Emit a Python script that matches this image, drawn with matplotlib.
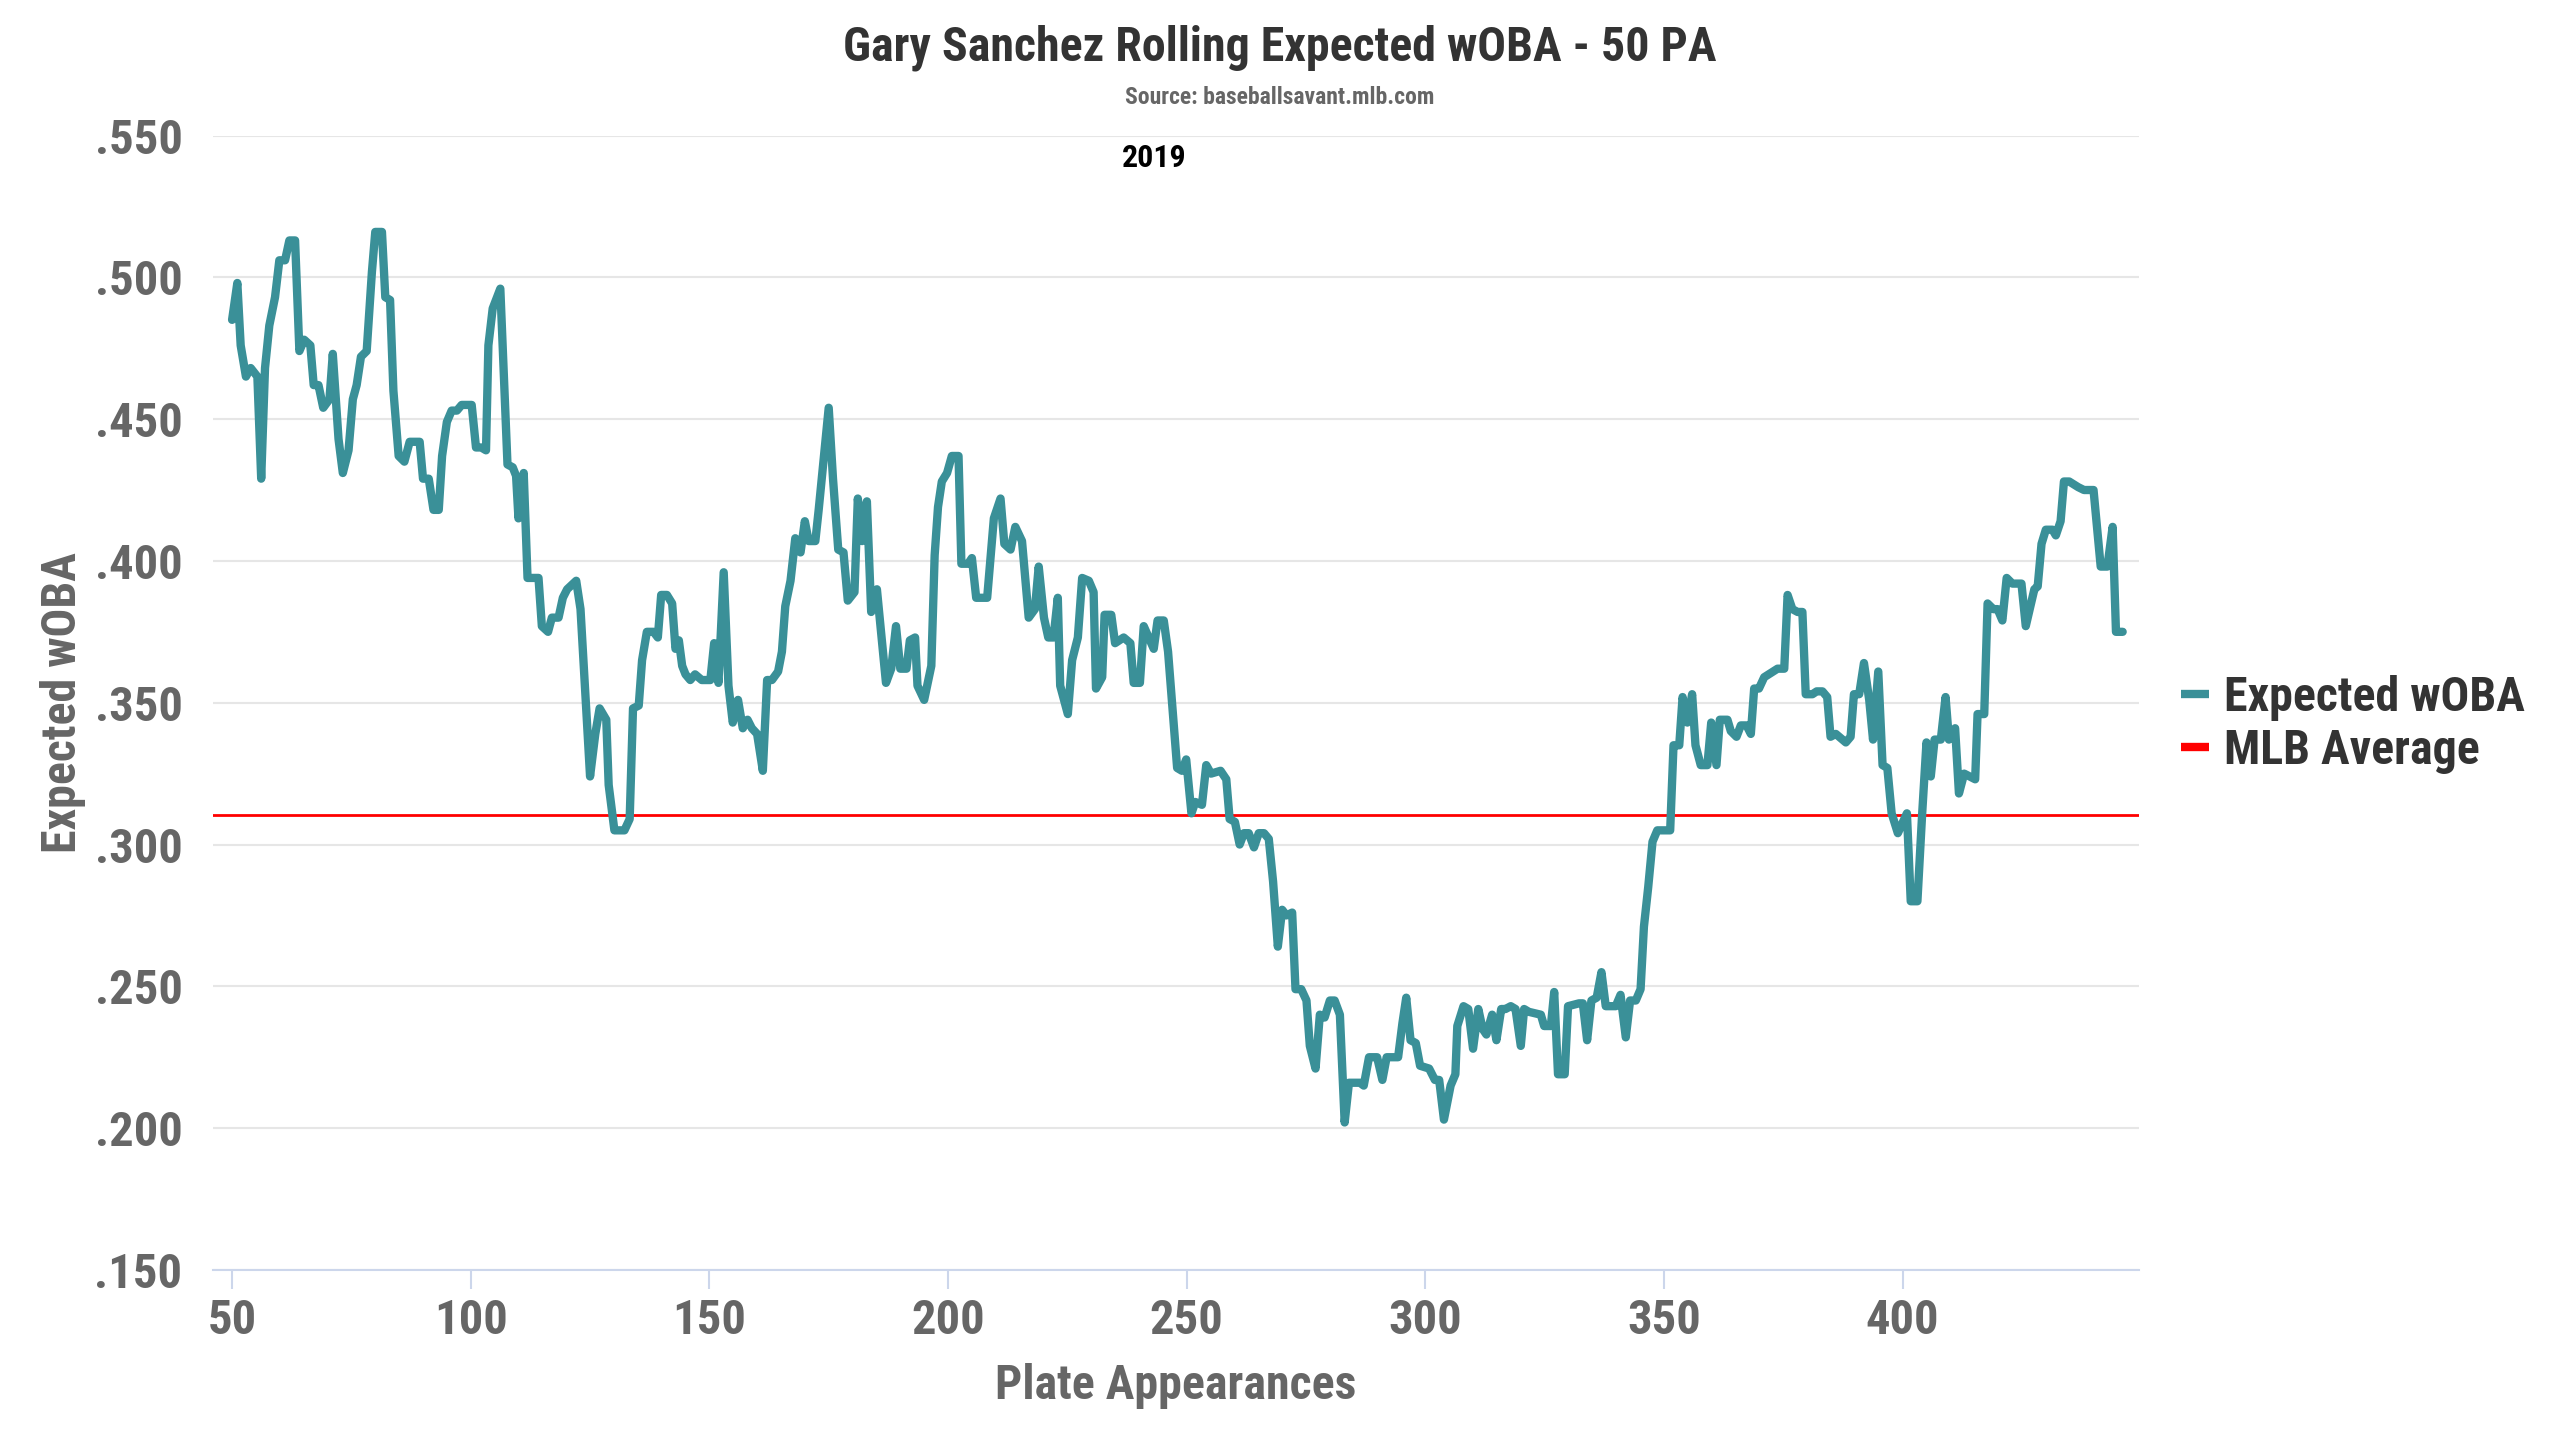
import matplotlib.pyplot as plt
from matplotlib.ticker import FuncFormatter, MultipleLocator

plt.rcParams['font.family'] = ['Roboto Condensed', 'Roboto', 'DejaVu Sans']

# rolling 50 PA xwOBA, vertices
pa = [50.0, 51.1, 51.8, 52.9, 53.9, 55.3, 56.1, 56.9, 57.8, 59.0, 59.9, 61.1, 62.0, 63.2, 64.1, 65.1,
      66.4, 67.1, 68.1, 69.1, 70.4, 71.1, 72.3, 73.2, 74.4, 75.3, 76.1, 77.0, 78.2, 79.3, 80.0, 81.4,
      82.1, 83.1, 83.8, 84.9, 86.1, 87.2, 89.3, 90.0, 91.2, 92.2, 93.3, 94.0, 95.0, 96.0, 97.1, 98.1,
      100.2, 101.1, 102.2, 103.2, 103.7, 104.6, 106.2, 106.9, 107.7,
      108.8, 109.5, 110.0, 111.1, 111.9, 114.2, 114.9, 116.2, 117.0, 118.4, 119.3, 120.2, 122.1, 123.0,
      125.0, 126.1, 127.0, 128.4, 128.9, 130.1, 132.2, 133.3, 134.0, 135.2, 135.9, 136.9, 138.3, 139.2,
      139.9, 141.1, 142.2, 142.9, 143.6, 144.3, 145.0, 146.0, 147.0, 148.4, 150.2, 151.0, 151.9, 153.0,
      154.0, 154.9, 156.0, 157.0, 158.0, 158.9, 160.0, 161.2, 162.1, 163.1, 164.4, 165.2, 165.9, 167.0,
      168.0, 169.1, 170.0, 170.8, 172.2, 172.9, 175.0, 175.9, 177.0, 178.1,
      179.0, 180.4, 181.1, 182.0, 183.0, 183.9, 185.1, 187.0, 188.1, 189.1, 190.0, 191.3, 192.0, 193.1,
      193.6, 195.0, 196.5, 197.2, 197.9, 198.7, 199.8, 200.8, 202.2, 202.8, 204.2, 205.0, 205.9, 208.2,
      209.6, 211.0, 211.8, 213.1, 214.1, 215.5, 216.9, 218.2, 219.0, 220.1, 221.0, 222.1, 223.0, 223.5,
      225.1, 226.0, 227.2, 228.1, 229.5, 230.5, 231.0, 232.3, 232.8, 234.2, 235.0, 236.8, 238.2, 238.9,
      240.2, 241.0, 243.1, 243.9, 245.2, 246.1, 248.0, 249.0, 249.9,
      251.0, 251.8, 253.2, 254.1, 255.1, 257.1, 258.3, 259.0, 260.1, 261.1, 262.0, 263.0, 264.1, 265.1,
      266.2, 267.2, 268.1, 269.1, 270.0, 270.9, 272.1, 272.8, 274.0, 275.1, 275.8, 277.0, 277.9, 278.9,
      280.0, 281.0, 282.1, 283.1, 284.0, 286.3, 287.1, 288.2, 289.9, 291.0, 291.9, 294.3, 295.2, 296.0,
      296.9, 298.0, 298.9, 300.8, 302.0, 302.9, 303.9, 305.3, 306.3, 306.7, 308.0, 309.0, 310.0, 311.1,
      312.0, 312.8, 314.0, 314.9, 315.9, 316.8, 317.9, 318.9,
      320.0, 320.7, 321.7, 324.2, 324.9, 326.3, 327.0, 327.8, 329.2, 329.9, 332.2, 333.0, 333.9, 334.8,
      335.9, 336.9, 337.8, 339.9, 340.9, 342.0, 342.9, 344.1, 345.1, 345.8, 346.7, 347.6, 348.6, 351.3,
      352.0, 353.2, 353.9, 354.9, 355.9, 356.6, 357.7, 359.1, 359.9, 361.0, 361.7, 363.3, 364.0, 365.2,
      366.1, 367.3, 368.2, 368.9, 369.9, 371.0, 373.8, 375.2, 375.9, 376.9, 378.0, 379.0, 379.7, 381.1,
      382.0, 383.2, 384.2, 384.9, 386.0, 388.1, 389.1, 389.8, 390.9,
      391.9, 393.0, 393.8, 394.9, 395.8, 396.8, 397.7, 399.0, 400.9, 401.7, 403.1, 404.1, 405.0, 405.9,
      406.7, 408.0, 409.0, 409.7, 411.0, 411.8, 412.9, 415.2, 415.7, 417.1, 417.8, 419.0, 419.9, 420.9,
      421.8, 423.0, 424.9, 425.8, 427.6, 428.3, 429.1, 430.0, 431.4, 432.1, 433.1, 433.8, 434.9, 436.8,
      438.0, 438.9, 440.0, 441.5, 442.9, 444.0, 444.7, 446.1]

xwoba = [.485, .498, .476, .465, .468, .465, .429, .468, .483, .493, .506, .506, .513, .513, .474, .478,
         .476, .462, .462, .454, .457, .473, .443, .431, .439, .457, .462, .472, .474, .502, .516, .516,
         .493, .492, .460, .437, .435, .442, .442, .429, .429, .418, .418, .437, .449, .453, .453, .455,
         .455, .440, .440, .439, .476, .489, .496, .467, .434,
         .433, .430, .415, .431, .394, .394, .377, .375, .380, .380, .387, .390, .393, .383,
         .324, .339, .348, .344, .321, .305, .305, .309, .348, .349, .365, .375, .375, .373,
         .388, .388, .385, .369, .372, .363, .360, .358, .360, .358, .358, .371, .357, .396,
         .356, .343, .351, .341, .344, .341, .339, .326, .358, .358, .361, .368, .384, .393,
         .408, .403, .414, .407, .407, .418, .454, .429, .404, .403,
         .386, .389, .422, .407, .421, .382, .390, .357, .362, .377, .362, .362, .372, .373,
         .356, .351, .363, .402, .419, .428, .431, .437, .437, .399, .399, .401, .387, .387,
         .415, .422, .406, .404, .412, .407, .380, .383, .398, .380, .373, .373, .387, .356,
         .346, .365, .373, .394, .393, .389, .355, .359, .381, .381, .371, .373, .371, .357,
         .357, .377, .369, .379, .379, .368, .327, .326, .330,
         .311, .315, .314, .328, .325, .326, .323, .309, .308, .300, .304, .304, .299, .304,
         .304, .302, .287, .264, .277, .275, .276, .249, .249, .245, .229, .221, .240, .239,
         .245, .245, .240, .202, .216, .216, .215, .225, .225, .217, .225, .225, .237, .246,
         .231, .230, .222, .221, .217, .217, .203, .215, .219, .236, .243, .242, .228, .242,
         .235, .233, .240, .231, .242, .242, .243, .242,
         .229, .242, .241, .240, .236, .236, .248, .219, .219, .243, .244, .244, .231, .245,
         .246, .255, .243, .243, .247, .232, .245, .245, .249, .271, .285, .301, .305, .305,
         .335, .335, .352, .343, .353, .335, .328, .328, .343, .328, .344, .344, .340, .338,
         .342, .342, .339, .355, .355, .359, .362, .362, .388, .383, .382, .382, .353, .353,
         .354, .354, .352, .338, .339, .336, .338, .353, .353,
         .364, .351, .337, .361, .328, .327, .311, .304, .311, .280, .280, .311, .336, .324,
         .337, .337, .352, .337, .341, .318, .325, .323, .346, .346, .385, .383, .383, .379,
         .394, .392, .392, .377, .390, .391, .406, .411, .411, .409, .414, .428, .428, .426,
         .425, .425, .425, .398, .398, .412, .375, .375]

mlb_avg = 0.3105
y_ticks = [0.15, 0.20, 0.25, 0.30, 0.35, 0.40, 0.45, 0.50, 0.55]

fig = plt.figure(figsize=(25.6, 14.4), dpi=100)
ax = fig.add_axes([0.0832, 0.1181, 0.7523, 0.7878])

ax.plot(pa, xwoba, color='#3a9098', linewidth=6, solid_joinstyle='round',
        solid_capstyle='round', label='Expected wOBA', zorder=3)
ax.axhline(mlb_avg, color='#ff0000', linewidth=2, label='MLB Average', zorder=2)

ax.set_xlim(46, 449.5)
ax.set_ylim(0.15, 0.55)
ax.set_yticks(y_ticks)
ax.xaxis.set_major_locator(MultipleLocator(50))
ax.yaxis.set_major_formatter(FuncFormatter(lambda v, p: ('%.3f' % v).lstrip('0')))

ax.grid(axis='y', color='#e6e6e6', linewidth=1.5)
ax.set_axisbelow(True)
for s in ['top', 'right', 'left']:
    ax.spines[s].set_visible(False)
ax.spines['bottom'].set_color('#ccd6eb')
ax.spines['bottom'].set_linewidth(1.5)
ax.tick_params(axis='x', colors='#ccd6eb', length=14, width=1.5, pad=6)
ax.tick_params(axis='y', length=0, pad=22)
for lab in ax.get_xticklabels() + ax.get_yticklabels():
    lab.set_color('#666666')
    lab.set_fontsize(35)
    lab.set_fontweight('bold')

ax.set_xlabel('Plate Appearances', fontsize=34.5, fontweight='bold', color='#666666', labelpad=14)
ax.set_ylabel('Expected wOBA', fontsize=34.5, fontweight='bold', color='#666666', labelpad=6)

fig.text(0.5, 0.967, 'Gary Sanchez Rolling Expected wOBA - 50 PA', ha='center', va='center',
         fontsize=34.5, fontweight='bold', color='#333333')
fig.text(0.5, 0.932, 'Source: baseballsavant.mlb.com', ha='center', va='center',
         fontsize=17, fontweight='bold', color='#666666')
fig.text(0.451, 0.890, '2019', ha='center', va='center', fontsize=23, fontweight='bold',
         color='#000000')

leg = fig.legend(loc='center left', bbox_to_anchor=(0.835, 0.497), frameon=False,
                 handlelength=0.6, handletextpad=0.3, labelspacing=0.15,
                 prop={'weight': 'bold', 'size': 34.5})
for t in leg.get_texts():
    t.set_color('#333333')
for h in leg.get_lines():
    h.set_linewidth(6)
    h.set_solid_capstyle('butt')

fig.savefig('out.png', dpi=100)
